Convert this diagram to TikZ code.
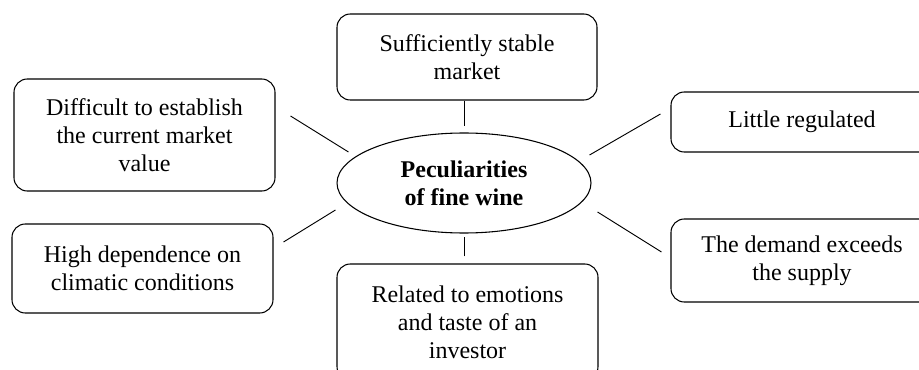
\documentclass[tikz,border=0pt]{standalone}
\usepackage{fontspec}
\setmainfont{Liberation Serif}
\usetikzlibrary{shapes.geometric}
\begin{document}
\begin{tikzpicture}[x=0.75pt,y=-0.75pt,
		box/.style={draw,rounded corners=10pt,line width=0.8pt,align=center,inner sep=0pt,
			font=\fontsize{18}{21}\selectfont},
		hub/.style={draw,ellipse,line width=0.8pt,align=center,inner sep=0pt,
			minimum width=190.5pt,minimum height=75pt,font=\fontsize{18}{21}\selectfont\bfseries},
		link/.style={line width=0.7pt}]
			\useasboundingbox (0,0) rectangle (919,370);
			\clip (0,0) rectangle (919,370);
			\draw 
			(464,183) node[hub](W){Peculiarities\\of fine wine}
			(467,57) node[box,minimum width=195pt,minimum height=64.5pt](S){Sufficiently stable\\market}
			(144.5,135) node[box,minimum width=195.75pt,minimum height=84pt](D){Difficult to establish\\the current market\\value}
			(142.5,268.5) node[box,minimum width=195.75pt,minimum height=66.75pt](H){High dependence on\\climatic conditions}
			(467.5,322) node[box,minimum width=195.75pt,minimum height=87pt](R){Related to emotions\\and taste of an\\investor}
			(802,122) node[box,minimum width=196.5pt,minimum height=45pt](L){Little regulated}
			(802,260.5) node[box,minimum width=196.5pt,minimum height=62.25pt](E){The demand exceeds\\the supply};
			\draw[link] ([shift={(-3,0)}]S.south) -- ([shift={(0,-6)}]W.north);
			\draw[link] ([shift={(15,-19)}]D.east) -- ([shift={(12,-31)}]W.west);
			\draw[link] ([shift={(10,-26.5)}]H.east) -- ([shift={(-1,27)}]W.west);
			\draw[link] ([shift={(-3.5,-7)}]R.north) -- ([shift={(0,3)}]W.south);
			\draw[link] ([shift={(-10,-8)}]L.west) -- ([shift={(-2,-28)}]W.east);
			\draw[link] ([shift={(-9,-8.5)}]E.west) -- ([shift={(6,29)}]W.east);
		\end{tikzpicture}
\end{document}
